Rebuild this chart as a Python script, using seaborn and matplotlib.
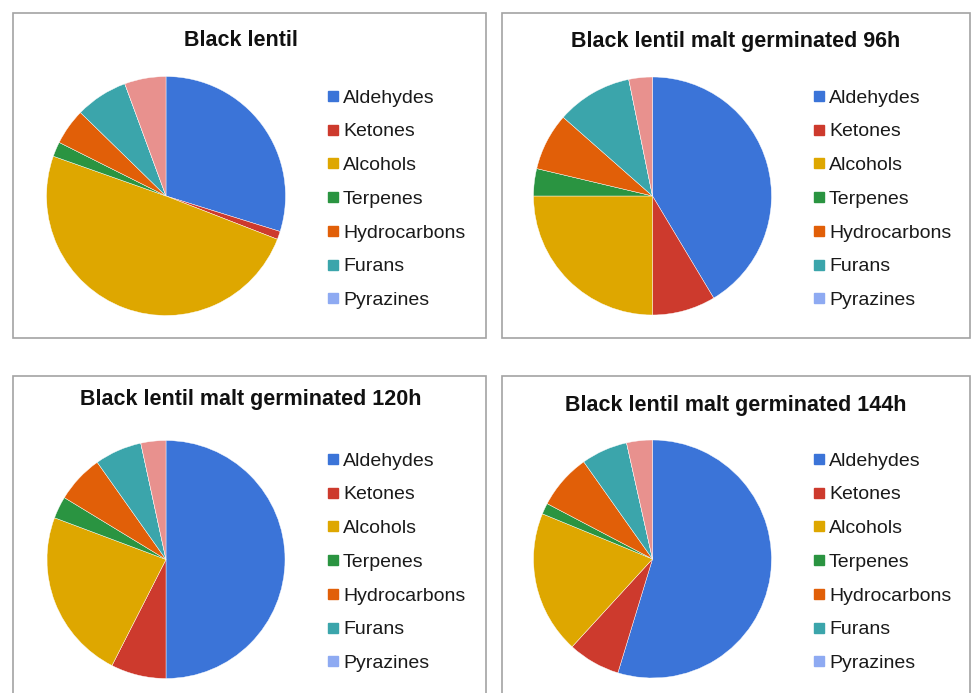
import numpy as np
import matplotlib
matplotlib.use("Agg")
import matplotlib.pyplot as plt
from matplotlib.patches import Rectangle
from matplotlib.lines import Line2D
import seaborn as sns

sns.set_style("white")
plt.rcParams['font.family'] = ['Liberation Sans', 'DejaVu Sans']

# compound classes (last slice is drawn but not listed in the legend)
classes = ["Aldehydes", "Ketones", "Alcohols", "Terpenes",
           "Hydrocarbons", "Furans", "Pyrazines", "Others"]
legend_classes = classes[:7]

titles = ["Black lentil",
          "Black lentil malt germinated 96h",
          "Black lentil malt germinated 120h",
          "Black lentil malt germinated 144h"]

# percent share of each class
black_lentil = [29.8, 1.1, 49.5, 2.0, 4.9, 7.1, 0.0, 5.6]
germ_96h = [41.4, 8.6, 25.0, 3.7, 7.8, 10.3, 0.0, 3.2]
germ_120h = [50.0, 7.5, 23.2, 3.0, 6.5, 6.4, 0.0, 3.4]
germ_144h = [54.7, 7.1, 19.4, 1.5, 7.5, 6.3, 0.0, 3.5]
all_values = [black_lentil, germ_96h, germ_120h, germ_144h]

colors = sns.color_palette(["#3b74d8", "#cd3a2d", "#dea700", "#2a9441",
                            "#e15f08", "#3ba5ab", "#8eaaf2", "#e8918e"])

W, H = 971, 693
fig = plt.figure(figsize=(W / 100, H / 100), dpi=100)

# panel layout in pixels: (box left, box top, box right, box bottom,
# pie centre x, pie centre y, radius, title x, title y, legend x, legend top)
panels = [
    (13, 13, 486, 338, 166, 196, 119.5, 241, 41, 328, 89),
    (502, 13, 970, 338, 652.5, 196, 119, 736, 41, 814, 89),
    (13, 376, 486, 700, 166, 559.5, 119, 251, 400, 328, 452),
    (502, 376, 970, 700, 652.5, 559, 119, 736, 405, 814, 452),
]

for (bl, bt, br, bb, cx, cy, r, tx, ty, lx, lt), title, vals in zip(panels, titles, all_values):
    fig.patches.append(Rectangle((bl / W, 1 - bb / H), (br - bl) / W, (bb - bt) / H,
                                 transform=fig.transFigure, fill=False,
                                 edgecolor="#a3a3a3", linewidth=1.2))
    ax = fig.add_axes([(cx - r) / W, 1 - (cy + r) / H, 2 * r / W, 2 * r / H])
    ax.pie(vals, colors=colors, startangle=90, counterclock=False, radius=1,
           wedgeprops=dict(linewidth=0.3, edgecolor="white"))
    ax.set_xlim(-1, 1)
    ax.set_ylim(-1, 1)
    ax.set_aspect("equal")
    ax.axis("off")

    fig.text(tx / W, 1 - ty / H, title, ha="center", va="center",
             fontsize=15.5, fontweight="bold", color="#111111")

    handles = [Line2D([], [], marker="s", linestyle="", color=colors[i],
                      markersize=7.2) for i in range(len(legend_classes))]
    fig.legend(handles, legend_classes, loc="upper left",
               bbox_to_anchor=(lx / W, 1 - lt / H), frameon=False,
               fontsize=14, handlelength=0.53, handletextpad=0.24,
               labelspacing=0.83, borderpad=0, borderaxespad=0,
               labelcolor="#1a1a1a")

fig.savefig("out.png", dpi=100, facecolor="white")
